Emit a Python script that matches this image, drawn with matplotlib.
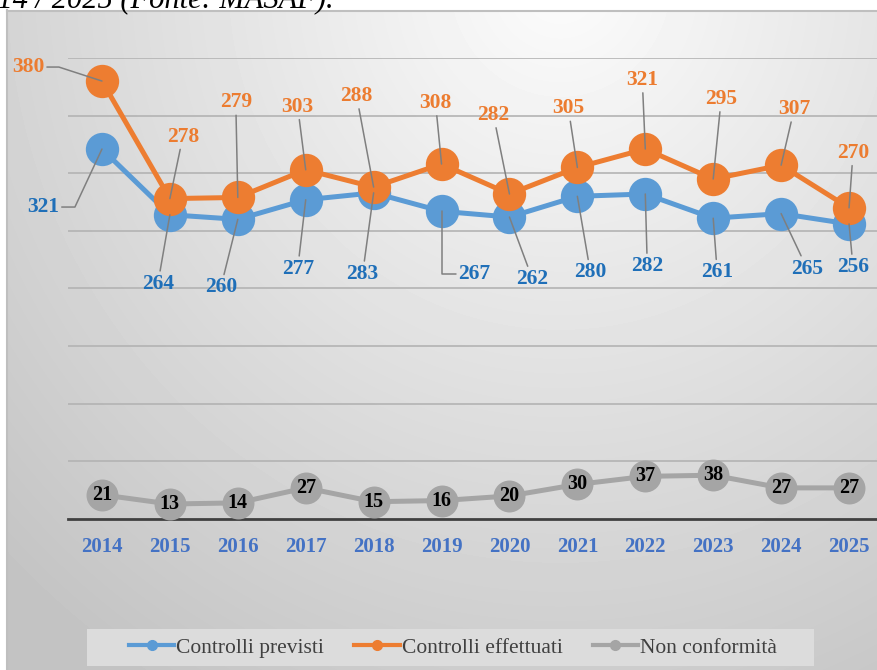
"""Controlli previsti / effettuati / non conformità, 2014-2025."""

import matplotlib
matplotlib.use('Agg')
import matplotlib.pyplot as plt
from matplotlib.lines import Line2D
from matplotlib.patches import Rectangle
import numpy as np

plt.rcParams['font.family'] = ['Liberation Serif', 'DejaVu Serif']

# --- data ---------------------------------------------------------------
years = ['2014', '2015', '2016', '2017', '2018', '2019',
         '2020', '2021', '2022', '2023', '2024', '2025']
controlli_previsti = [321, 264, 260, 277, 283, 267, 262, 280, 282, 261, 265, 256]
controlli_effettuati = [380, 278, 279, 303, 288, 308, 282, 305, 321, 295, 307, 270]
non_conformita = [21, 13, 14, 27, 15, 16, 20, 30, 37, 38, 27, 27]
series_names = ['Controlli previsti', 'Controlli effettuati', 'Non conformità']
caption = '2014 / 2025 (Fonte: MASAF).'

# label offsets from each point, in pixels (dx, dy up)
prev_offsets = [(-59, -58), (-12, -69), (-17, -68), (-8, -69), (-11, -81), (33, -63),
                (23, -62), (13, -76), (2, -72), (4, -54), (26, -55), (4, -43)]
eff_offsets = [(-74, 14), (13, 62), (-2, 95), (-8, 63), (-17, 91), (-6, 61),
               (-16, 79), (-9, 59), (-3, 69), (8, 80), (13, 56), (4, 55)]
prev_elbows = {0: 'angle,angleA=0,angleB=65,rad=0', 5: 'angle,angleA=0,angleB=90,rad=0'}
eff_elbows = {0: 'angle,angleA=0,angleB=-18,rad=0'}

# colours
blue = '#5B9BD5'
orange = '#ED7D31'
grey = '#A5A5A5'
blue_txt = '#1F6FB8'
orange_txt = '#EC7C30'
year_txt = '#4472C4'
leader = '#7F7F7F'

W, H = 878, 670
fig = plt.figure(figsize=(W / 100, H / 100), dpi=100)

# background: white page, chart area with a soft radial gradient
bg = fig.add_axes([0, 0, 1, 1], zorder=-5)
yy, xx = np.mgrid[0:H, 0:W]
dist = np.hypot((xx - 560) * 1.0, (yy + 20) * 0.95)
shade = np.clip(252 - 0.072 * dist, 196, 252)
shade[yy < 10] = 255
shade[:, :7] = 255
bg.imshow(shade, cmap='gray', vmin=0, vmax=255, aspect='auto',
          extent=(0, W, H, 0), interpolation='bilinear')
bg.plot([7, W], [10.5, 10.5], color='#BFBFBF', lw=1.5)
bg.plot([7.5, 7.5], [10, H], color='#BFBFBF', lw=1.5)
bg.set_xlim(0, W)
bg.set_ylim(H, 0)
bg.axis('off')

fig.text(334 / W, 1 - 7 / H, caption, ha='right', va='baseline',
         fontsize=22, style='italic', color='black')

# plot area
ax = fig.add_axes([68 / W, (H - 519) / H, 815 / W, 461 / H])
ax.set_facecolor('none')
x = np.arange(len(years))
ax.set_xlim(-0.5, len(years) - 0.5)
ax.set_ylim(0, 400)
ax.set_yticks(np.arange(50, 401, 50))
ax.yaxis.grid(True, color='#B3B3B3', lw=1.2)
ax.set_axisbelow(True)
for s in ['top', 'right', 'left']:
    ax.spines[s].set_visible(False)
ax.spines['bottom'].set_color('#404040')
ax.spines['bottom'].set_linewidth(2)
ax.tick_params(axis='y', left=False, labelleft=False)
ax.tick_params(axis='x', length=0, pad=13)
ax.set_xticks(x)
ax.set_xticklabels(years, fontsize=15, fontweight='bold', color=year_txt)

ax.plot(x, controlli_previsti, color=blue, lw=3.6, marker='o', ms=24,
        markeredgewidth=0, zorder=3, clip_on=False)
ax.plot(x, controlli_effettuati, color=orange, lw=3.6, marker='o', ms=24,
        markeredgewidth=0, zorder=4, clip_on=False)
ax.plot(x, non_conformita, color=grey, lw=3.6, marker='o', ms=23,
        markeredgewidth=0, zorder=5, clip_on=False)

# data labels with leader lines
for vals, offs, elbows, col in [(controlli_previsti, prev_offsets, prev_elbows, blue_txt),
                                (controlli_effettuati, eff_offsets, eff_elbows, orange_txt)]:
    for i, (v, (dx, dy)) in enumerate(zip(vals, offs)):
        ax.annotate(str(v), xy=(i, v), xytext=(dx, dy), textcoords='offset pixels',
                    ha='center', va='center', fontsize=15.5, fontweight='bold',
                    color=col, zorder=6, annotation_clip=False,
                    arrowprops=dict(arrowstyle='-', color=leader, lw=1.1,
                                    shrinkA=0, shrinkB=0,
                                    connectionstyle=elbows.get(i, 'arc3')))

for i, v in enumerate(non_conformita):
    ax.text(i, v, str(v), ha='center', va='center', fontsize=14.5, fontweight='bold',
            color='black', zorder=7)

# legend
fig.patches.append(Rectangle((87 / W, 1 - 666 / H), 727 / W, 37 / H,
                             transform=fig.transFigure, facecolor='#DCDCDC',
                             edgecolor='none', zorder=-1))
handles = [Line2D([], [], color=c, lw=3, marker='o', ms=7) for c in (blue, orange, grey)]
leg = fig.legend(handles, series_names, loc='center', ncol=3,
                 bbox_to_anchor=(453 / W, 1 - 647.5 / H), frameon=False,
                 prop={'size': 15.5}, handlelength=2.1,
                 handletextpad=0.1, columnspacing=1.4)
for t in leg.get_texts():
    t.set_color('#404040')

fig.savefig('out.png', dpi=100)
plt.close(fig)
